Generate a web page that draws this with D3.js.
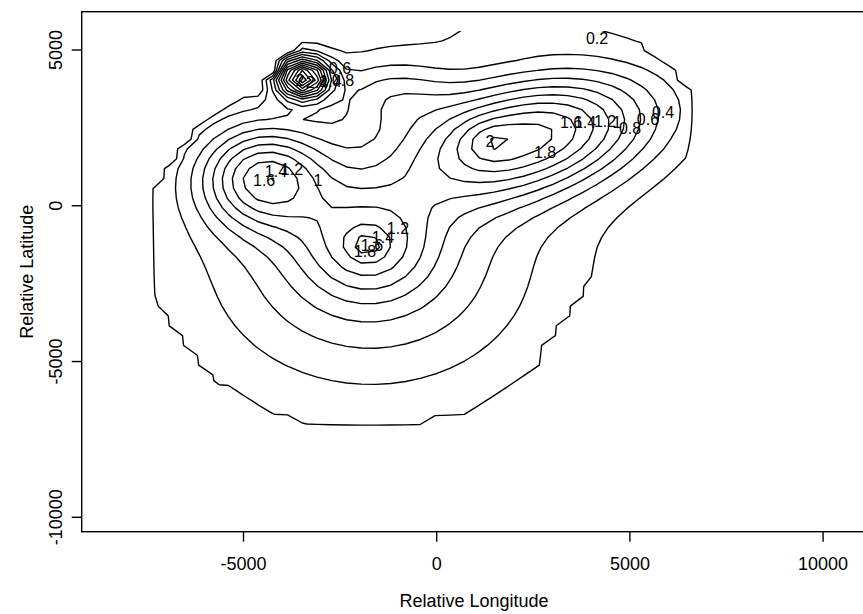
<!DOCTYPE html>
<html>
<head>
<meta charset="utf-8">
<script src="https://cdn.jsdelivr.net/npm/d3@7"></script>
<style>
  body { margin: 0; background: #fff; }
  text { font-family: "Liberation Sans", Arial, Helvetica, sans-serif; fill: #000; }
</style>
</head>
<body>
<svg id="chart" width="863" height="614"></svg>
<script>
// contour levels drawn by the chart
const levels = [0.2, 0.4, 0.6, 0.8, 1.0, 1.2, 1.4, 1.6, 1.8, 2.0, 2.2, 2.4, 2.6, 2.8];

// kernel sites: centre, height, spread and tilt (degrees) of each bump
const siteX     = [-1700, -3460, -4495, -1800, -1800, 2450, 1330,  2000, -1200];
const siteY     = [-1800,  4100,   921, -1270, -1270, 2250, 2100,  5700,  3600];
const siteH     = [ 0.85,   2.6,  1.35, 0.765,   0.3, 1.72, 0.22,  0.16,  0.45];
const siteSx    = [ 3350,   450,  1150,  1190,   300, 2300,  450,  2000,  1100];
const siteSy    = [ 3200,   450,  1150,  1190,   300, 1300,  450,   600,   800];
const siteAngle = [    0,     0,     0,     0,     0,   18,    0,     0,     0];

// outline of the surveyed area; the surface is zero outside it
const hullX = [-7500, -7500, -6000, -3800, -2800, -1000, 1000, 2600, 3800, 5600, 6600, 6700, 6300, 5200, 4400, -3000, -4600, -6300];
const hullY = [  400, -3000, -5600, -7000, -7250, -7250, -6600, -5300, -2900,  0, 1300, 2800, 4300, 5400, 6000,  6000,  3700,  2500];

// grid extent and size of the surface
const gridXRange = [-8439, 10259];
const gridYRange = [-9844, 5608];
const gridN = 50;

const xTicks = [-5000, 0, 5000, 10000];
const yTicks = [-10000, -5000, 0, 5000];

// inline contour labels, placed where the picture has them
const labelText = ['0.2', '0.4', '0.6', '0.8', '1', '1.2', '1.4', '1.6', '1.8', '2',
                   '1.6', '1.4', '1.2', '1',
                   '1.2', '1.4', '1.6', '1.8',
                   '0.6', '0.8', '2', '1.4', '2.4'];
const labelX = [4149, 5857, 5468, 5003, 4666, 4356, 3838, 3476, 2803, 1379,
                -4466, -4159, -3745, -3072,
                -1002, -1390, -1675, -1856,
                -2503, -2425, -3537, -2750, -3100];
const labelY = [5382, 3004, 2782, 2494, 2686, 2718, 2686, 2686, 1723, 2077,
                825, 1114, 1178, 825,
                -716, -1004, -1261, -1454,
                4419, 4034, 4034, 3980, 3960];

const box = { left: 81.7, right: 864, top: 11.7, bottom: 531.7 };

const svg = d3.select('#chart');

const x = d3.scaleLinear().domain([-10000, 10000]).range([50.3, 823.1]);
const y = d3.scaleLinear().domain([-10000, 5000]).range([517.3, 50.0]);

// surface on the grid
const hull = hullX.map((v, i) => [v, hullY[i]]);
const dxg = (gridXRange[1] - gridXRange[0]) / (gridN - 1);
const dyg = (gridYRange[1] - gridYRange[0]) / (gridN - 1);
const cosA = siteAngle.map(a => Math.cos(a * Math.PI / 180));
const sinA = siteAngle.map(a => Math.sin(a * Math.PI / 180));
const values = new Array(gridN * gridN);
for (let j = 0; j < gridN; j++) {
  const py = gridYRange[0] + j * dyg;
  for (let i = 0; i < gridN; i++) {
    const px = gridXRange[0] + i * dxg;
    let v = 0;
    if (d3.polygonContains(hull, [px, py])) {
      for (let k = 0; k < siteX.length; k++) {
        const rx = px - siteX[k], ry = py - siteY[k];
        const a = (rx * cosA[k] + ry * sinA[k]) / siteSx[k];
        const b = (-rx * sinA[k] + ry * cosA[k]) / siteSy[k];
        v += siteH[k] * Math.exp(-0.5 * (a * a + b * b));
      }
    }
    values[j * gridN + i] = v;
  }
}

const contours = d3.contours().size([gridN, gridN]).thresholds(levels)(values);

const toScreen = d3.geoTransform({
  point(gx, gy) {
    this.stream.point(x(gridXRange[0] + (gx - 0.5) * dxg), y(gridYRange[0] + (gy - 0.5) * dyg));
  }
});
const path = d3.geoPath(toScreen);

// lines stop at the edge of the grid, as in the original
const defs = svg.append('defs');
defs.append('clipPath').attr('id', 'grid-clip')
  .append('rect')
  .attr('x', x(gridXRange[0])).attr('y', y(gridYRange[1]))
  .attr('width', x(gridXRange[1]) - x(gridXRange[0]))
  .attr('height', y(gridYRange[0]) - y(gridYRange[1]));

const plot = svg.append('g').attr('clip-path', 'url(#grid-clip)');

plot.selectAll('path.contour')
  .data(contours)
  .enter()
  .append('path')
  .attr('class', 'contour')
  .attr('d', path)
  .attr('fill', 'none')
  .attr('stroke', '#000')
  .attr('stroke-width', 1.4)
  .attr('stroke-linejoin', 'round');

svg.selectAll('text.clabel')
  .data(labelText)
  .enter()
  .append('text')
  .attr('class', 'clabel')
  .attr('x', (d, i) => x(labelX[i]))
  .attr('y', (d, i) => y(labelY[i]))
  .attr('dy', '0.35em')
  .attr('text-anchor', 'middle')
  .style('font-size', '16px')
  .text(d => d);

// plot frame
svg.append('rect')
  .attr('x', box.left).attr('y', box.top)
  .attr('width', box.right - box.left).attr('height', box.bottom - box.top)
  .attr('fill', 'none')
  .attr('stroke', '#000')
  .attr('stroke-width', 1.4);

// x axis
const xAxis = svg.append('g');
xAxis.selectAll('line')
  .data(xTicks)
  .enter()
  .append('line')
  .attr('x1', d => x(d)).attr('x2', d => x(d))
  .attr('y1', box.bottom).attr('y2', box.bottom + 10)
  .attr('stroke', '#000')
  .attr('stroke-width', 1.4);
xAxis.selectAll('text')
  .data(xTicks)
  .enter()
  .append('text')
  .attr('x', d => x(d))
  .attr('y', 570)
  .attr('text-anchor', 'middle')
  .style('font-size', '18px')
  .text(d => d);

// y axis
const yAxis = svg.append('g');
yAxis.selectAll('line')
  .data(yTicks)
  .enter()
  .append('line')
  .attr('x1', box.left - 10).attr('x2', box.left)
  .attr('y1', d => y(d)).attr('y2', d => y(d))
  .attr('stroke', '#000')
  .attr('stroke-width', 1.4);
yAxis.selectAll('text')
  .data(yTicks)
  .enter()
  .append('text')
  .attr('transform', d => `translate(62,${y(d)}) rotate(-90)`)
  .attr('text-anchor', 'middle')
  .style('font-size', '18px')
  .text(d => d);

// axis titles
svg.append('text')
  .attr('x', 474)
  .attr('y', 607)
  .attr('text-anchor', 'middle')
  .style('font-size', '18px')
  .text('Relative Longitude');

svg.append('text')
  .attr('transform', `translate(33,${(box.top + box.bottom) / 2}) rotate(-90)`)
  .attr('text-anchor', 'middle')
  .style('font-size', '18px')
  .text('Relative Latitude');
</script>
</body>
</html>
